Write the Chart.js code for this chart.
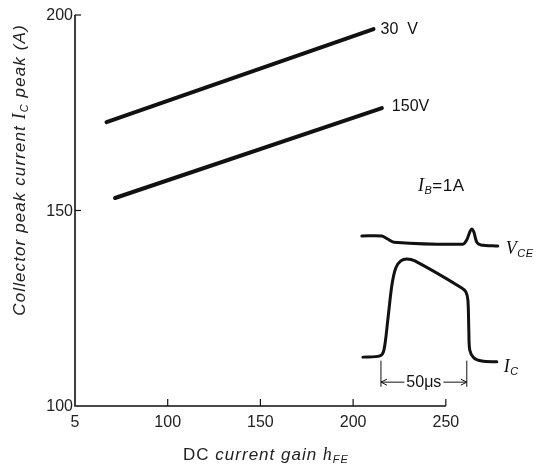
<!DOCTYPE html>
<html>
<head>
<meta charset="utf-8">
<script src="https://cdn.jsdelivr.net/npm/chart.js@4"></script>
<style>
  html, body { margin: 0; padding: 0; background: #fff; }
  #wrap { width: 537px; height: 472px; position: relative; }
</style>
</head>
<body>
<div id="wrap"><canvas id="c"></canvas></div>
<script>
  // main curves
  var hfe30 = [67, 211];
  var cur30 = [172.6, 196.4];
  var hfe150 = [71.6, 215.5];
  var cur150 = [153.2, 176.2];

  // inset oscillogram traces (drawn in the same data space)
  var vceX = [204.7, 215.5, 218.7, 222.0, 259.2, 261.3, 262.9, 264.0, 265.1, 266.7, 268.9, 278.0];
  var vceY = [143.5, 143.5, 142.7, 141.9, 141.4, 142.5, 144.5, 145.3, 144.5, 141.9, 141.2, 140.9];
  var icX = [205.3, 214.4, 216.6, 218.7, 220.9, 223.0, 225.7, 229.0, 233.3, 258.6, 260.8, 261.9, 262.4, 262.9, 265.1, 269.4, 277.5];
  var icY = [112.5, 112.8, 114.3, 122.0, 130.9, 135.3, 137.1, 137.6, 137.1, 130.2, 129.2, 127.1, 119.4, 114.3, 112.3, 111.5, 111.3];

  var xTickValues = [50, 100, 150, 200, 250];
  var xTickLabels = ['5', '100', '150', '200', '250'];
  var yTickValues = [100, 150, 200];
  var yTickLabels = ['100', '150', '200'];

  // 50 us dimension marker
  var dimX = [215.0, 261.3];
  var dimY = [104.9, 111.6];
  var dimArrowY = 106.1;

  function pts(xs, ys) {
    return xs.map(function (x, i) { return { x: x, y: ys[i] }; });
  }

  var INK = '#111';
  var SANS = '"Liberation Sans", Arial, sans-serif';
  var SERIF = '"Liberation Serif", "Times New Roman", serif';

  // text runs: [text, font, dy], drawn char by char with a little tracking
  function runWidth(ctx, parts, sp) {
    var w = 0;
    parts.forEach(function (p) {
      ctx.font = p[1];
      for (var i = 0; i < p[0].length; i++) w += ctx.measureText(p[0][i]).width + sp;
    });
    return w;
  }
  function drawRun(ctx, parts, x, y, sp) {
    parts.forEach(function (p) {
      ctx.font = p[1];
      for (var i = 0; i < p[0].length; i++) {
        ctx.fillText(p[0][i], x, y + (p[2] || 0));
        x += ctx.measureText(p[0][i]).width + sp;
      }
    });
  }

  var decor = {
    id: 'decor',
    afterDatasetsDraw: function (chart) {
      var ctx = chart.ctx;
      var xs = chart.scales.x, ys = chart.scales.y;
      var X = function (v) { return xs.getPixelForValue(v); };
      var Y = function (v) { return ys.getPixelForValue(v); };
      ctx.save();
      ctx.strokeStyle = INK;
      ctx.fillStyle = INK;
      ctx.lineWidth = 1.6;
      ctx.lineCap = 'butt';

      // axes
      ctx.beginPath();
      ctx.moveTo(X(50), Y(200));
      ctx.lineTo(X(50), Y(100));
      ctx.lineTo(X(250), Y(100));
      ctx.stroke();

      ctx.lineWidth = 1.2;
      xTickValues.slice(1).forEach(function (v) {
        ctx.beginPath();
        ctx.moveTo(X(v), Y(100));
        ctx.lineTo(X(v), Y(100) - 7);
        ctx.stroke();
      });
      yTickValues.slice(1).forEach(function (v) {
        ctx.beginPath();
        ctx.moveTo(X(50), Y(v));
        ctx.lineTo(X(50) + 6, Y(v));
        ctx.stroke();
      });

      // tick labels
      ctx.font = '16px ' + SANS;
      ctx.fillStyle = '#222';
      ctx.textBaseline = 'middle';
      ctx.textAlign = 'center';
      xTickValues.forEach(function (v, i) {
        ctx.fillText(xTickLabels[i], X(v), Y(100) + 17);
      });
      ctx.textAlign = 'right';
      yTickValues.forEach(function (v, i) {
        ctx.fillText(yTickLabels[i], X(50) - 2, Y(v) + 1);
      });

      // axis titles
      ctx.textAlign = 'left';
      ctx.textBaseline = 'alphabetic';
      var it = 'italic 17px ' + SANS;
      var sub = 'italic 11px ' + SANS;
      var xt = [['DC ', '17px ' + SANS], ['current gain ', it], ['h', 'italic 18px ' + SERIF], ['FE', sub, 3]];
      drawRun(ctx, xt, 266 - runWidth(ctx, xt, 1) / 2, 460, 1);

      var yt = [['Collector peak current ', it], ['I', 'italic 18px ' + SERIF], ['C', sub, 3], [' peak (A)', it]];
      ctx.save();
      ctx.translate(25, 170);
      ctx.rotate(-Math.PI / 2);
      drawRun(ctx, yt, -runWidth(ctx, yt, 1.1) / 2, 0, 1.1);
      ctx.restore();

      // curve labels
      ctx.fillStyle = INK;
      ctx.textBaseline = 'middle';
      ctx.font = '16px ' + SANS;
      ctx.fillText('30  V', X(hfe30[1]) + 7, Y(cur30[1]) + 1);
      ctx.fillText('150V', X(hfe150[1]) + 10, Y(cur150[1]) - 1);

      ctx.textBaseline = 'alphabetic';
      drawRun(ctx, [['I', 'italic 18px ' + SERIF], ['B', sub, 3], ['=1A', '17px ' + SANS]], 418, 191, 0.5);
      drawRun(ctx, [['V', 'italic 18px ' + SERIF], ['CE', sub, 3]], X(vceX[vceX.length - 1]) + 8, Y(vceY[vceY.length - 1]) + 8, 0.5);
      drawRun(ctx, [['I', 'italic 18px ' + SERIF], ['C', sub, 3]], X(icX[icX.length - 1]) + 7, Y(icY[icY.length - 1]) + 10, 0.5);

      // 50 us dimension
      ctx.lineWidth = 1;
      dimX.forEach(function (v) {
        ctx.beginPath();
        ctx.moveTo(X(v), Y(dimY[1]));
        ctx.lineTo(X(v), Y(dimY[0]));
        ctx.stroke();
      });
      var ay = Y(dimArrowY);
      var x0 = X(dimX[0]), x1 = X(dimX[1]);
      ctx.font = '16px ' + SANS;
      var label = '50\u03bcs';
      var lw = ctx.measureText(label).width;
      var mid = (x0 + x1) / 2;
      ctx.beginPath();
      ctx.moveTo(x0, ay); ctx.lineTo(mid - lw / 2 - 2, ay);
      ctx.moveTo(mid + lw / 2 + 2, ay); ctx.lineTo(x1, ay);
      ctx.moveTo(x0 + 6, ay - 3); ctx.lineTo(x0, ay); ctx.lineTo(x0 + 6, ay + 3);
      ctx.moveTo(x1 - 6, ay - 3); ctx.lineTo(x1, ay); ctx.lineTo(x1 - 6, ay + 3);
      ctx.stroke();
      ctx.textAlign = 'center';
      ctx.textBaseline = 'middle';
      ctx.fillText(label, mid, ay);
      ctx.restore();
    }
  };

  new Chart(document.getElementById('c'), {
    type: 'line',
    data: {
      datasets: [
        { label: '30 V', data: pts(hfe30, cur30), borderWidth: 4 },
        { label: '150V', data: pts(hfe150, cur150), borderWidth: 4 },
        { label: 'VCE', data: pts(vceX, vceY), borderWidth: 3, tension: 0.3 },
        { label: 'IC', data: pts(icX, icY), borderWidth: 3, tension: 0.3 }
      ].map(function (d) {
        d.borderColor = INK;
        d.pointRadius = 0;
        d.fill = false;
        d.borderCapStyle = 'round';
        d.borderJoinStyle = 'round';
        return d;
      })
    },
    options: {
      responsive: true,
      maintainAspectRatio: false,
      animation: false,
      layout: { padding: { left: 75, right: 17, top: 15, bottom: 66 } },
      plugins: { legend: { display: false }, tooltip: { enabled: false } },
      scales: {
        x: { type: 'linear', min: 50, max: 290, display: false },
        y: { type: 'linear', min: 100, max: 200, display: false }
      }
    },
    plugins: [decor]
  });
</script>
</body>
</html>
